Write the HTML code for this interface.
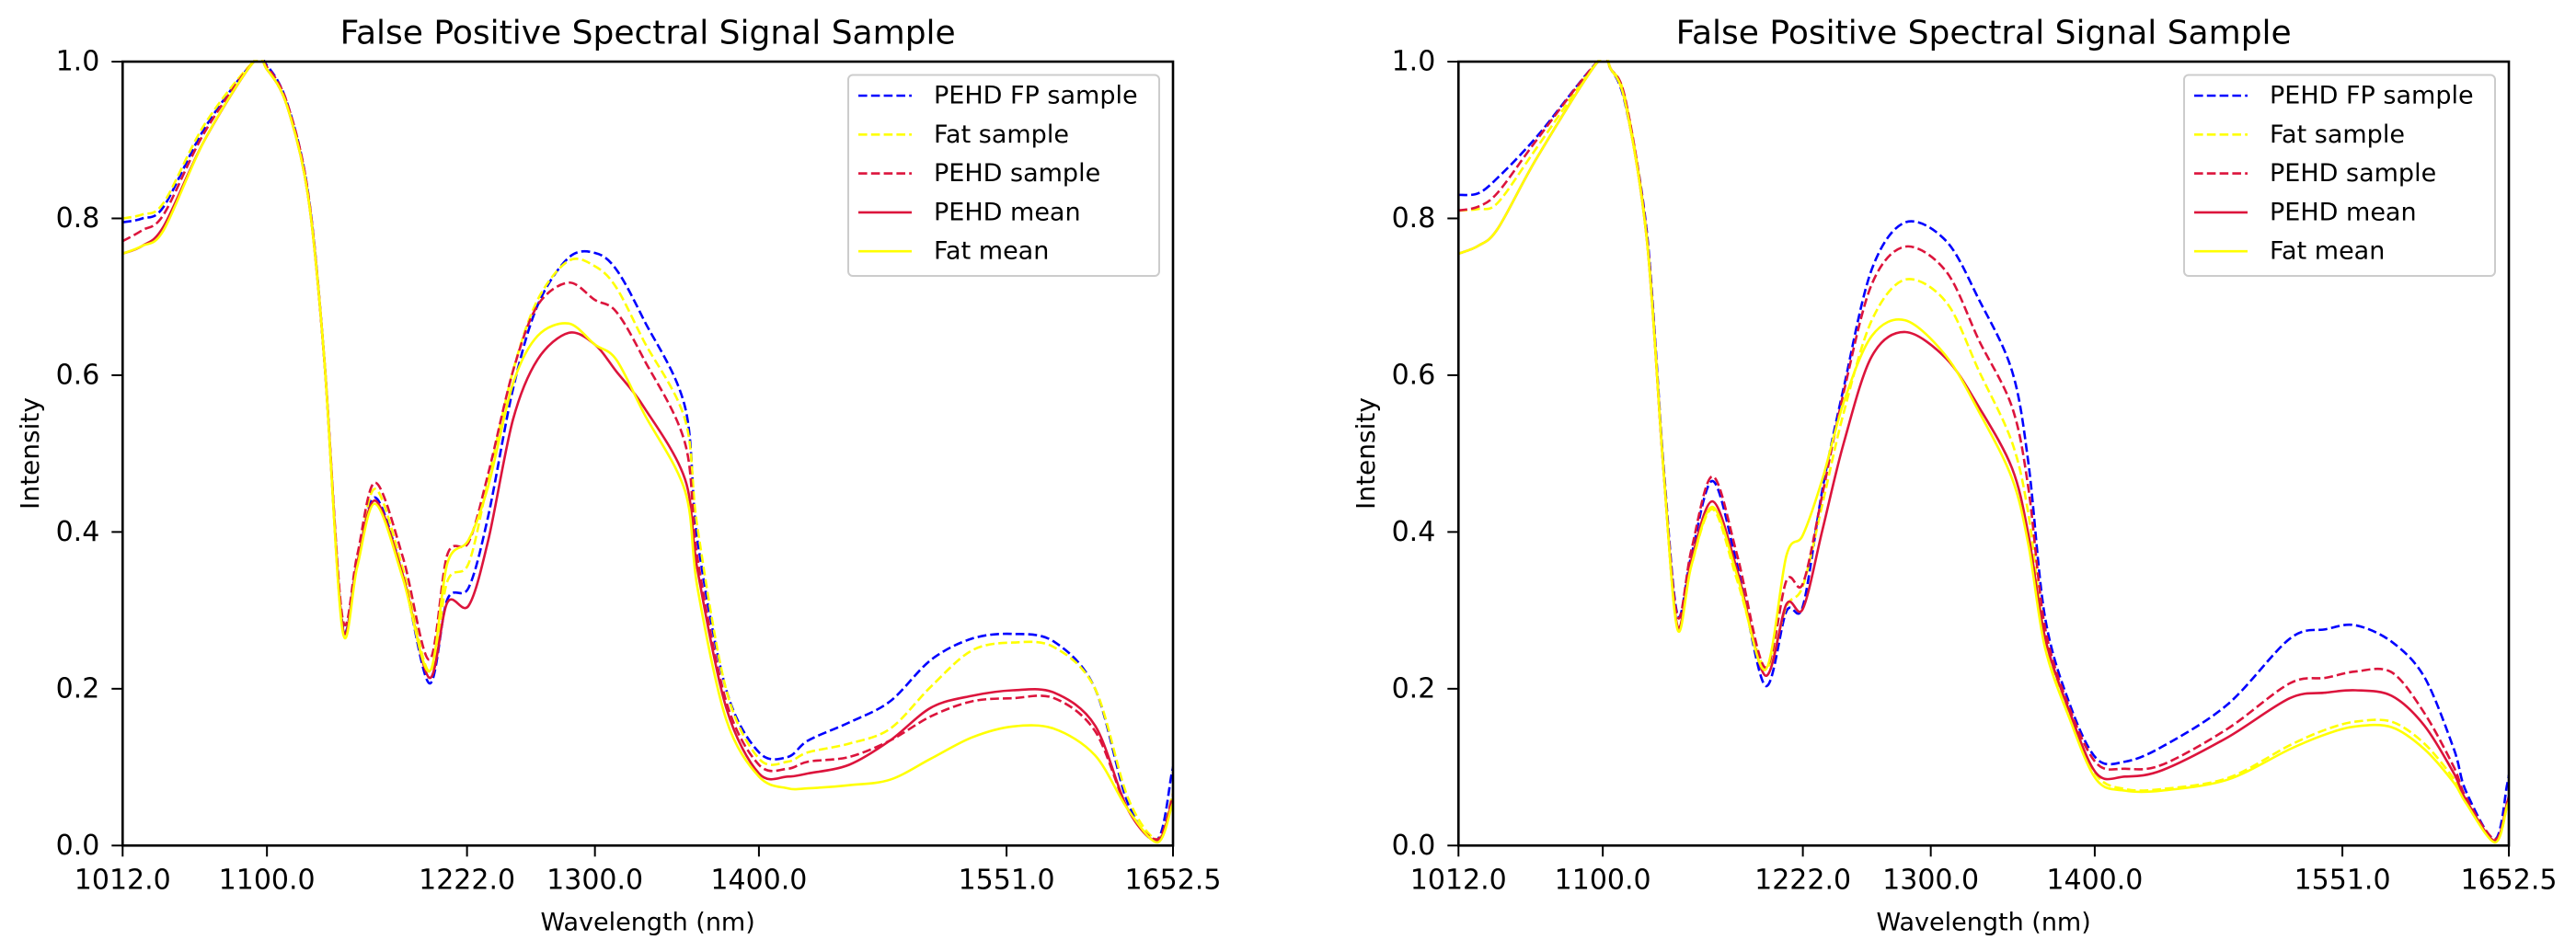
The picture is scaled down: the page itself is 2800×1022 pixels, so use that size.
<!DOCTYPE html>
<html><head><meta charset="utf-8"><style>
html,body{margin:0;padding:0;background:#fff;}
svg{display:block;font-family:"DejaVu Sans","Liberation Sans",sans-serif;}
</style></head><body>
<svg id="fig" width="2800" height="1022" viewBox="0 0 2800 1022" xmlns="http://www.w3.org/2000/svg"></svg>
<script>
// ---- data ----
const leftWl = [1012,1024,1037,1062,1092,1100,1112,1125,1135,1146,1155,1166,1183,1199,1210,1223,1235,1250,1265,1284,1300,1313,1330,1355,1362.5,1380,1400,1417.6,1430,1455,1480,1505,1530,1555,1580,1605,1625,1643,1651.7,1652.5];
const leftFpSample   = [0.795,0.80,0.815,0.915,1.0,0.995,0.949,0.834,0.62,0.283,0.36,0.444,0.344,0.207,0.314,0.329,0.421,0.582,0.689,0.75,0.756,0.735,0.67,0.559,0.39,0.199,0.119,0.113,0.134,0.157,0.184,0.237,0.264,0.27,0.26,0.2,0.054,0.008,0.092,0.1];
const leftFatSample  = [0.80,0.805,0.82,0.92,1.0,0.99,0.945,0.83,0.62,0.28,0.36,0.455,0.352,0.222,0.337,0.36,0.467,0.605,0.696,0.746,0.739,0.712,0.643,0.543,0.406,0.199,0.111,0.107,0.119,0.13,0.149,0.203,0.249,0.259,0.253,0.2,0.061,0.008,0.061,0.07];
const leftPehdSample = [0.771,0.785,0.805,0.91,1.0,0.993,0.949,0.834,0.62,0.291,0.37,0.463,0.367,0.237,0.371,0.387,0.475,0.605,0.689,0.718,0.696,0.681,0.62,0.513,0.367,0.184,0.103,0.098,0.107,0.113,0.134,0.165,0.184,0.188,0.188,0.146,0.046,0.008,0.058,0.065];
const leftPehdMean   = [0.755,0.765,0.79,0.90,1.0,0.99,0.945,0.83,0.62,0.28,0.36,0.44,0.344,0.214,0.31,0.306,0.39,0.543,0.62,0.654,0.639,0.605,0.559,0.467,0.352,0.176,0.092,0.088,0.092,0.103,0.134,0.176,0.191,0.198,0.195,0.153,0.046,0.006,0.054,0.06];
const leftFatMean    = [0.755,0.765,0.785,0.90,1.0,0.99,0.945,0.83,0.62,0.275,0.355,0.436,0.34,0.222,0.36,0.39,0.459,0.589,0.65,0.666,0.639,0.62,0.551,0.452,0.329,0.161,0.088,0.073,0.073,0.077,0.084,0.111,0.138,0.152,0.149,0.115,0.046,0.004,0.05,0.055];

const rightWl = [1012,1024,1036,1060,1097,1105,1114,1127,1137,1145.5,1154,1167,1182,1199,1212,1222,1234,1247,1264,1284.5,1309.5,1329.5,1349.6,1359.6,1369.6,1384.6,1401,1418.5,1441,1481,1519,1541,1559,1581,1601,1619,1626.4,1644,1651.4,1652.5];
const rightFpSample   = [0.83,0.832,0.852,0.905,1.0,0.99,0.943,0.78,0.487,0.295,0.37,0.465,0.357,0.204,0.299,0.305,0.455,0.585,0.735,0.795,0.771,0.696,0.605,0.487,0.292,0.181,0.111,0.107,0.126,0.18,0.264,0.276,0.281,0.26,0.215,0.123,0.069,0.008,0.077,0.09];
const rightFatSample  = [0.81,0.812,0.82,0.891,1.0,0.99,0.95,0.774,0.481,0.279,0.357,0.429,0.338,0.227,0.305,0.331,0.436,0.553,0.67,0.722,0.693,0.605,0.514,0.422,0.266,0.168,0.09,0.072,0.072,0.086,0.128,0.148,0.158,0.158,0.13,0.085,0.058,0.005,0.05,0.06];
const rightPehdSample = [0.81,0.815,0.833,0.901,1.0,0.99,0.95,0.774,0.481,0.292,0.377,0.471,0.37,0.227,0.338,0.334,0.449,0.579,0.716,0.764,0.732,0.644,0.559,0.455,0.279,0.175,0.105,0.098,0.103,0.149,0.207,0.214,0.222,0.221,0.169,0.10,0.061,0.008,0.054,0.065];
const rightPehdMean   = [0.755,0.765,0.787,0.878,1.0,0.99,0.945,0.77,0.48,0.28,0.364,0.439,0.351,0.217,0.308,0.302,0.403,0.514,0.624,0.655,0.621,0.559,0.481,0.396,0.266,0.171,0.092,0.088,0.096,0.138,0.188,0.195,0.198,0.191,0.153,0.092,0.058,0.006,0.054,0.06];
const rightFatMean    = [0.755,0.765,0.787,0.878,1.0,0.99,0.945,0.77,0.48,0.276,0.357,0.432,0.344,0.224,0.37,0.396,0.468,0.566,0.65,0.67,0.624,0.553,0.468,0.383,0.253,0.162,0.084,0.07,0.07,0.084,0.123,0.142,0.152,0.151,0.123,0.08,0.054,0.004,0.05,0.055];

const xTickValues = [1012.0,1100.0,1222.0,1300.0,1400.0,1551.0,1652.5];
const xTickLabels = ["1012.0","1100.0","1222.0","1300.0","1400.0","1551.0","1652.5"];
const yTickValues = [0,0.2,0.4,0.6,0.8,1.0];
const yTickLabels = ["0.0","0.2","0.4","0.6","0.8","1.0"];
const legendLabels = ["PEHD FP sample","Fat sample","PEHD sample","PEHD mean","Fat mean"];

// ---- drawing ----
const NS = "http://www.w3.org/2000/svg";
const svg = document.getElementById('fig');
function mk(tag, attrs, parent){
  const e = document.createElementNS(NS, tag);
  for (const k in attrs) e.setAttribute(k, attrs[k]);
  (parent||svg).appendChild(e);
  return e;
}
const styles = [
  {color:'#0000ff', dash:'9.6,4.2'},
  {color:'#ffff00', dash:'9.6,4.2'},
  {color:'#dc143c', dash:'9.6,4.2'},
  {color:'#dc143c', dash:null},
  {color:'#ffff00', dash:null}
];
const seriesNames = ['pehd-fp-sample','fat-sample','pehd-sample','pehd-mean','fat-mean'];

function smoothPath(p){
  let d = 'M' + p[0][0].toFixed(1) + ',' + p[0][1].toFixed(1);
  const k = 0.16;
  for (let i = 0; i < p.length - 1; i++){
    const p0 = p[Math.max(i-1,0)], p1 = p[i], p2 = p[i+1], p3 = p[Math.min(i+2,p.length-1)];
    const c1x = p1[0] + (p2[0]-p0[0])*k, c1y = p1[1] + (p2[1]-p0[1])*k;
    const c2x = p2[0] - (p3[0]-p1[0])*k, c2y = p2[1] - (p3[1]-p1[1])*k;
    d += ' C' + c1x.toFixed(1) + ',' + c1y.toFixed(1) + ' ' + c2x.toFixed(1) + ',' + c2y.toFixed(1) + ' ' + p2[0].toFixed(1) + ',' + p2[1].toFixed(1);
  }
  return d;
}

function drawPanel(ox, prefix, wl, seriesList){
  const L = ox, R = ox + 1141.7, T = 67, B = 919.3;
  const xs = v => L + (v - 1012) / (1652.5 - 1012) * (R - L);
  const ys = v => B - v * (B - T);
  const g = mk('g', {});
  
  

  const clipId = prefix + '-clip';
  const cp = mk('clipPath', {id: clipId}, g);
  mk('rect', {x:L, y:T-2, width:R-L, height:B-T+4}, cp);

  const lines = mk('g', {'clip-path': 'url(#' + clipId + ')'}, g);
  
  
  seriesList.forEach((vals, i) => {
    const pts = vals.map((v, j) => [xs(wl[j]), ys(v)]);
    const a = {d: smoothPath(pts), fill:'none', stroke: styles[i].color, 'stroke-width': 2.6, 'stroke-linejoin':'round'};
    if (styles[i].dash) a['stroke-dasharray'] = styles[i].dash;
    const pl = mk('path', a, lines);
    
    
  });

  const frame = mk('rect', {x:L, y:T, width:R-L, height:B-T, fill:'none', stroke:'#000', 'stroke-width':2.6}, g);
  
  

  xTickValues.forEach((v, i) => {
    const x = xs(v);
    mk('line', {x1:x, y1:B, x2:x, y2:B+12, stroke:'#000', 'stroke-width':2}, g);
    const t = mk('text', {x:x, y:957, 'font-size':30, 'text-anchor':'middle', 'dominant-baseline':'central', fill:'#000'}, g);
    t.textContent = xTickLabels[i];
    
    
  });
  yTickValues.forEach((v, i) => {
    const y = ys(v);
    mk('line', {x1:L-12, y1:y, x2:L, y2:y, stroke:'#000', 'stroke-width':2}, g);
    const t = mk('text', {x:L-25, y:y, 'font-size':30, 'text-anchor':'end', 'dominant-baseline':'central', fill:'#000'}, g);
    t.textContent = yTickLabels[i];
    
    
  });

  const xl = mk('text', {x:(L+R)/2, y:1003, 'font-size':27, 'text-anchor':'middle', 'dominant-baseline':'central', fill:'#000'}, g);
  xl.textContent = 'Wavelength (nm)';
  
  

  const yl = mk('text', {x:0, y:0, 'font-size':28, 'text-anchor':'middle', 'dominant-baseline':'central', fill:'#000', transform:'translate(' + (L-101) + ',493) rotate(-90)'}, g);
  yl.textContent = 'Intensity';
  
  

  const tt = mk('text', {x:(L+R)/2, y:36, 'font-size':36, 'text-anchor':'middle', 'dominant-baseline':'central', fill:'#000'}, g);
  tt.textContent = 'False Positive Spectral Signal Sample';
  
  

  const lg = mk('g', {}, g);
  
  
  const bx = R - 353, by = 81.5;
  mk('rect', {x:bx, y:by, width:338, height:218.5, rx:5, fill:'#fff', 'fill-opacity':0.8, stroke:'#cccccc', 'stroke-width':2}, lg);
  legendLabels.forEach((lab, i) => {
    const y = 104 + i * 42.3;
    const ent = mk('g', {}, lg);
    
    
    const a = {x1:bx+11, y1:y, x2:bx+69, y2:y, stroke:styles[i].color, 'stroke-width':2.6};
    if (styles[i].dash) a['stroke-dasharray'] = styles[i].dash;
    mk('line', a, ent);
    const t = mk('text', {x:bx+93, y:y, 'font-size':27, 'dominant-baseline':'central', fill:'#000'}, ent);
    t.textContent = lab;
  });
}

drawPanel(133.3, 'left', leftWl, [leftFpSample, leftFatSample, leftPehdSample, leftPehdMean, leftFatMean]);
drawPanel(1585.3, 'right', rightWl, [rightFpSample, rightFatSample, rightPehdSample, rightPehdMean, rightFatMean]);
</script>
</body></html>
